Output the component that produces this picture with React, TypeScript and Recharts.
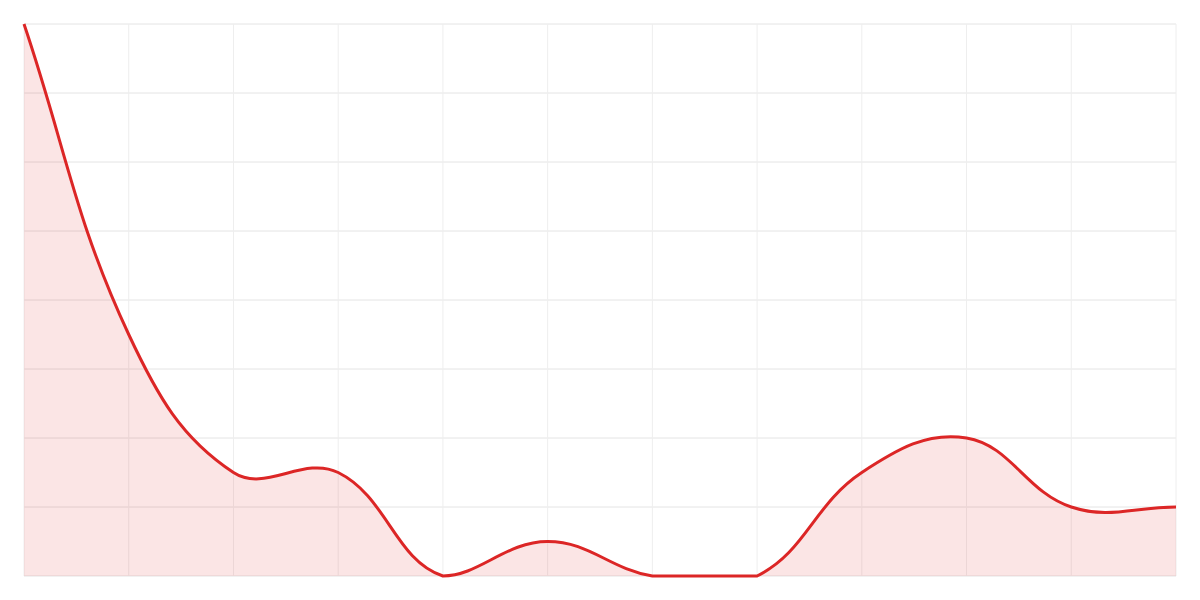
import { AreaChart, Area, XAxis, YAxis, CartesianGrid } from 'recharts';

const months = ['Jan', 'Feb', 'Mar', 'Apr', 'May', 'Jun', 'Jul', 'Aug', 'Sep', 'Oct', 'Nov', 'Dec'];
const values = [8, 3.5, 1.5, 1.5, 0, 0.5, 0, 0, 1.5, 2, 1, 1];
const yTicks = [0, 1, 2, 3, 4, 5, 6, 7, 8];

const data = months.map((m, i) => ({ name: m, value: values[i] }));

const W = 1184;
const H = 584;
const M = 16;

// bezier spline like chart.js (tension 0.4), control points capped to the plot area
const splineCurve = (tension: number, box: { left: number; right: number; top: number; bottom: number }) =>
  (context: any) => {
    let pts: [number, number][] = [];
    let line = NaN;
    const cap = (x: number, y: number): [number, number] => [
      Math.min(Math.max(x, box.left), box.right),
      Math.min(Math.max(y, box.top), box.bottom),
    ];
    return {
      areaStart() { line = 0; },
      areaEnd() { line = NaN; },
      lineStart() { pts = []; },
      lineEnd() {
        const n = pts.length;
        if (n) {
          if (line) context.lineTo(pts[0][0], pts[0][1]);
          else context.moveTo(pts[0][0], pts[0][1]);
          const ctrl = pts.map((cur, i) => {
            const prev = pts[Math.max(i - 1, 0)];
            const next = pts[Math.min(i + 1, n - 1)];
            const d01 = Math.hypot(cur[0] - prev[0], cur[1] - prev[1]);
            const d12 = Math.hypot(next[0] - cur[0], next[1] - cur[1]);
            let s01 = d01 / (d01 + d12);
            let s12 = d12 / (d01 + d12);
            if (isNaN(s01)) s01 = 0;
            if (isNaN(s12)) s12 = 0;
            const fa = tension * s01;
            const fb = tension * s12;
            const dx = next[0] - prev[0];
            const dy = next[1] - prev[1];
            return {
              p: cap(cur[0] - fa * dx, cur[1] - fa * dy),
              n: cap(cur[0] + fb * dx, cur[1] + fb * dy),
            };
          });
          for (let i = 1; i < n; i++) {
            const a = ctrl[i - 1].n;
            const b = ctrl[i].p;
            context.bezierCurveTo(a[0], a[1], b[0], b[1], pts[i][0], pts[i][1]);
          }
        }
        if (line || (line !== 0 && n === 1)) context.closePath();
        line = 1 - line;
      },
      point(x: number, y: number) { pts.push([+x, +y]); },
    };
  };

const curve = splineCurve(0.4, { left: M, right: W - M, top: M, bottom: H - M });

export default function App() {
  return (
    <div style={{ width: W, height: H }}>
      <AreaChart width={W} height={H} data={data} margin={{ top: M, right: M, bottom: M, left: M }}>
        <CartesianGrid vertical={false} stroke="#e4e4e4" strokeWidth={1} />
        <CartesianGrid horizontal={false} stroke="#eeeeee" strokeWidth={1} />
        <XAxis dataKey="name" hide />
        <YAxis hide domain={[0, 8]} ticks={yTicks} />
        <Area
          type={curve as any}
          dataKey="value"
          stroke="#dc2626"
          strokeWidth={3}
          fill="#dc2626"
          fillOpacity={0.12}
          dot={false}
          activeDot={false}
          isAnimationActive={false}
        />
      </AreaChart>
    </div>
  );
}
